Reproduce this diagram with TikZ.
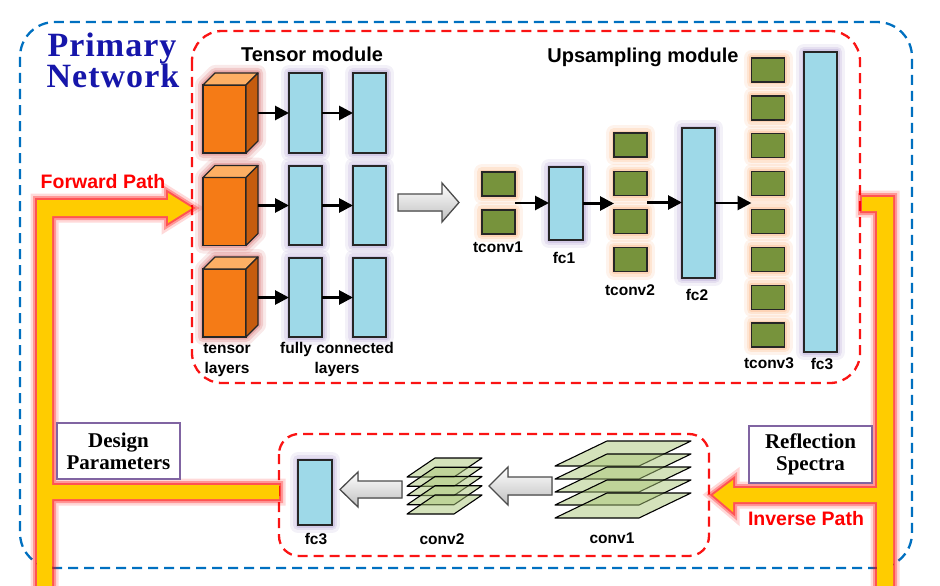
\documentclass[tikz,border=0pt]{standalone}
\usepackage{fontspec}
\setmainfont{Liberation Serif}
\setsansfont{Liberation Sans}
\usetikzlibrary{arrows.meta,calc}
\definecolor{bluedash}{RGB}{0,112,192}
\definecolor{reddash}{RGB}{250,20,20}
\definecolor{titleblue}{RGB}{22,22,170}
\definecolor{orF}{RGB}{245,123,22}
\definecolor{orT}{RGB}{253,175,100}
\definecolor{orS}{RGB}{198,92,14}
\definecolor{fcblue}{RGB}{158,217,232}
\definecolor{tgreen}{RGB}{119,147,60}
\definecolor{lgreen}{RGB}{170,198,120}
\definecolor{pathyel}{RGB}{255,204,0}
\definecolor{boxpur}{RGB}{128,100,162}
\definecolor{glowred}{RGB}{205,70,70}
\definecolor{glowlav}{RGB}{160,140,200}
\definecolor{glowpea}{RGB}{250,160,95}
\tikzset{
  glow/.style={
    preaction={draw=#1,line width=16pt,draw opacity=0.12,line join=round},
    preaction={draw=#1,line width=10pt,draw opacity=0.18,line join=round},
    preaction={draw=#1,line width=5pt,draw opacity=0.25,line join=round}},
  pathglow/.style={
    preaction={draw=#1,line width=13pt,draw opacity=0.15,line join=miter},
    preaction={draw=#1,line width=8pt,draw opacity=0.30,line join=miter},
    preaction={draw=#1,line width=4pt,draw opacity=0.45,line join=miter}},
  fcbox/.style={draw=black!85,line width=1.3pt,fill=fcblue,inner sep=0pt,outer sep=0pt,glow=glowlav},
  sqbox/.style={draw=black!85,line width=1.3pt,fill=tgreen,inner sep=0pt,outer sep=0pt,minimum width=33pt,minimum height=24pt,glow=glowpea},
  grpbox/.style={inner sep=0pt,outer sep=0pt,minimum width=33pt},
  cubefront/.style={draw=black!85,line width=1.3pt,fill=orF,inner sep=0pt,outer sep=0pt,minimum width=43pt,minimum height=68pt},
  cubeface/.style={draw=black!85,line width=1.3pt,line join=round},
  arr/.style={line width=2.8pt,-{Triangle[length=14pt,width=14pt]}},
  lbl/.style={font=\sffamily\bfseries\fontsize{15.5}{19}\selectfont,inner sep=0pt,anchor=base},
  headlbl/.style={font=\sffamily\bfseries\fontsize{20}{24}\selectfont,inner sep=0pt,anchor=base},
  titlelbl/.style={font=\bfseries\fontsize{34}{38}\selectfont\addfontfeature{LetterSpace=3},text=titleblue,inner sep=0pt,anchor=base},
  pathlbl/.style={font=\sffamily\bfseries\fontsize{19.5}{23}\selectfont,text=red,inner sep=0pt,anchor=base},
  infobox/.style={draw=boxpur,line width=1.6pt,fill=white,inner sep=0pt,align=center,font=\bfseries\fontsize{21}{22}\selectfont},
  yband/.style={fill=pathyel,pathglow=red},
  grayarrow/.style={draw=black!70,line width=1.3pt,top color=white,bottom color=black!25,line join=miter},
  convlayer/.style={draw=black,line width=1.1pt,fill=lgreen,fill opacity=0.5,line join=round},
  bluebox/.style={draw=bluedash,line width=2.3pt,dash pattern=on 10pt off 6pt},
  redbox/.style={draw=reddash,line width=2.3pt,dash pattern=on 10pt off 6pt},
}
\newcommand\mycube[3]{%
  \path[glow=glowred] (#2-21.5,#3+34) -- (#2-21.5,#3-34) -- (#2-9.5,#3-46) -- (#2+33.5,#3-46) -- (#2+33.5,#3+22) -- (#2+21.5,#3+34) -- cycle;
  \node[cubefront] (#1) at (#2,#3) {};
  \draw[cubeface,fill=orT] (#1.north west) -- ++(12,-12) -- ++(43,0) -- (#1.north east) -- cycle;
  \draw[cubeface,fill=orS] (#1.north east) -- ++(12,-12) -- ++(0,68) -- (#1.south east) -- cycle;
  \coordinate (#1s) at ($(#1.east)+(12,-6)$);
}
\newcommand\convlayers[7]{% x-left-bottom, width, skew, height, top0, step, count
  \foreach \k in {1,...,#7}{
    \pgfmathsetmacro\tp{#5+(\k-1)*#6}
    \draw[convlayer] (#1,\tp+#4) -- (#1+#2,\tp+#4) -- (#1+#2+#3,\tp) -- (#1+#3,\tp) -- cycle;
  }
}
\begin{document}
\begin{tikzpicture}[x=1pt,y=-1pt]
\useasboundingbox (0,0) rectangle (940,586);
% frames
\draw[bluebox,rounded corners=35pt] (20,22) rectangle (912,568);
\draw[redbox,rounded corners=30pt] (192,31) rectangle (860,383);
\draw[redbox,rounded corners=20pt] (279,434) rectangle (709,556);
% title
\node[titlelbl] (tP) at (112,57) {Primary};
\node[titlelbl] (tN) at (113,88) {Network};
\node[headlbl] (hT) at (312,62) {Tensor module};
\node[headlbl] (hU) at (643,63) {Upsampling module};
% yellow paths
\fill[yband] (37,600) -- (37,200) -- (168,200) -- (168,193) -- (192,208) -- (168,223) -- (168,216) -- (52,216) -- (52,485) -- (279,485) -- (279,499) -- (52,499) -- (52,600) -- cycle;
\fill[yband] (862,197) -- (893,197) -- (893,600) -- (877,600) -- (877,502) -- (733,502) -- (733,512) -- (713,495) -- (733,480) -- (733,488) -- (877,488) -- (877,211) -- (862,211) -- cycle;
\node[pathlbl] (fp) at (103,188) {Forward Path};
\node[pathlbl] (ip) at (806,525) {Inverse Path};
\node[infobox,minimum width=123pt,minimum height=56pt] (dp) at (118.5,451) {Design\\Parameters};
\node[infobox,minimum width=123pt,minimum height=57pt] (rs) at (810.5,454.5) {Reflection\\Spectra};
% tensor module
\mycube{c1}{224.5}{119}
\mycube{c2}{224.5}{211.5}
\mycube{c3}{224.5}{303}
\node[fcbox,minimum width=33pt,minimum height=80pt] (f11) at (305.5,113) {};
\node[fcbox,minimum width=33pt,minimum height=80pt] (f12) at (369.5,113) {};
\node[fcbox,minimum width=33pt,minimum height=79pt] (f21) at (305.5,205.5) {};
\node[fcbox,minimum width=33pt,minimum height=79pt] (f22) at (369.5,205.5) {};
\node[fcbox,minimum width=33pt,minimum height=79pt] (f31) at (305.5,297.5) {};
\node[fcbox,minimum width=33pt,minimum height=79pt] (f32) at (369.5,297.5) {};
\foreach \r in {1,2,3}{
  \draw[arr] (c\r s |- f\r1.west) -- (f\r1.west);
  \draw[arr] (f\r1.east) -- (f\r2.west);
}
\node[lbl] (lt1) at (227,353) {tensor};
\node[lbl] (lt2) at (227,373) {layers};
\node[lbl] (lf1) at (337,353) {fully connected};
\node[lbl] (lf2) at (337,373) {layers};
% big gray arrow
\filldraw[grayarrow] (398,194) -- (442,194) -- (442,183) -- (459,202.5) -- (442,222) -- (442,211) -- (398,211) -- cycle;
% upsampling module
\node[sqbox] (t1a) at (498.5,184) {};
\node[sqbox] (t1b) at (498.5,222) {};
\node[grpbox,minimum height=62pt] (t1) at (498.5,203) {};
\node[fcbox,minimum width=34pt,minimum height=73pt] (fc1) at (566,203.5) {};
\foreach \y [count=\i] in {145,183.5,221.5,259.5}{
  \node[sqbox] (t2\i) at (630.5,\y) {};
}
\node[grpbox,minimum height=139pt] (t2) at (630.5,202.5) {};
\node[fcbox,minimum width=33pt,minimum height=150pt] (fc2) at (698.5,203) {};
\foreach \i in {0,...,7}{
  \pgfmathsetmacro\yy{70+\i*37.86}
  \node[sqbox] (t3\i) at (768,\yy) {};
}
\node[grpbox,minimum height=289pt] (t3) at (768,202.5) {};
\node[fcbox,minimum width=33pt,minimum height=300pt] (fc3) at (820.5,202) {};
\draw[arr] (t1.east) -- (t1.east -| fc1.west);
\draw[arr] (fc1.east) -- (fc1.east -| t2.west);
\draw[arr] (t2.east) -- (t2.east -| fc2.west);
\draw[arr] (fc2.east) -- (fc2.east -| t3.west);
\node[lbl] (lc1) at (498,252) {tconv1};
\node[lbl] (lfc1) at (564,263) {fc1};
\node[lbl] (lc2) at (630,295) {tconv2};
\node[lbl] (lfc2) at (697,300) {fc2};
\node[lbl] (lc3) at (769,368) {tconv3};
\node[lbl] (lfc3) at (822,369) {fc3};
% inverse network
\node[fcbox,minimum width=34pt,minimum height=65pt] (ifc3) at (315,492.5) {};
\convlayers{407}{47}{28}{19}{458}{9.25}{5}
\convlayers{555}{84}{52}{25}{441}{13}{5}
\filldraw[grayarrow] (402,481) -- (358,481) -- (358,472) -- (340,489.5) -- (358,507) -- (358,498) -- (402,498) -- cycle;
\filldraw[grayarrow] (552,477) -- (508,477) -- (508,467) -- (489,486) -- (508,505) -- (508,495) -- (552,495) -- cycle;
\node[lbl] (lif) at (316,544) {fc3};
\node[lbl] (lcv2) at (442,544) {conv2};
\node[lbl] (lcv1) at (612,543) {conv1};
\end{tikzpicture}
\end{document}
